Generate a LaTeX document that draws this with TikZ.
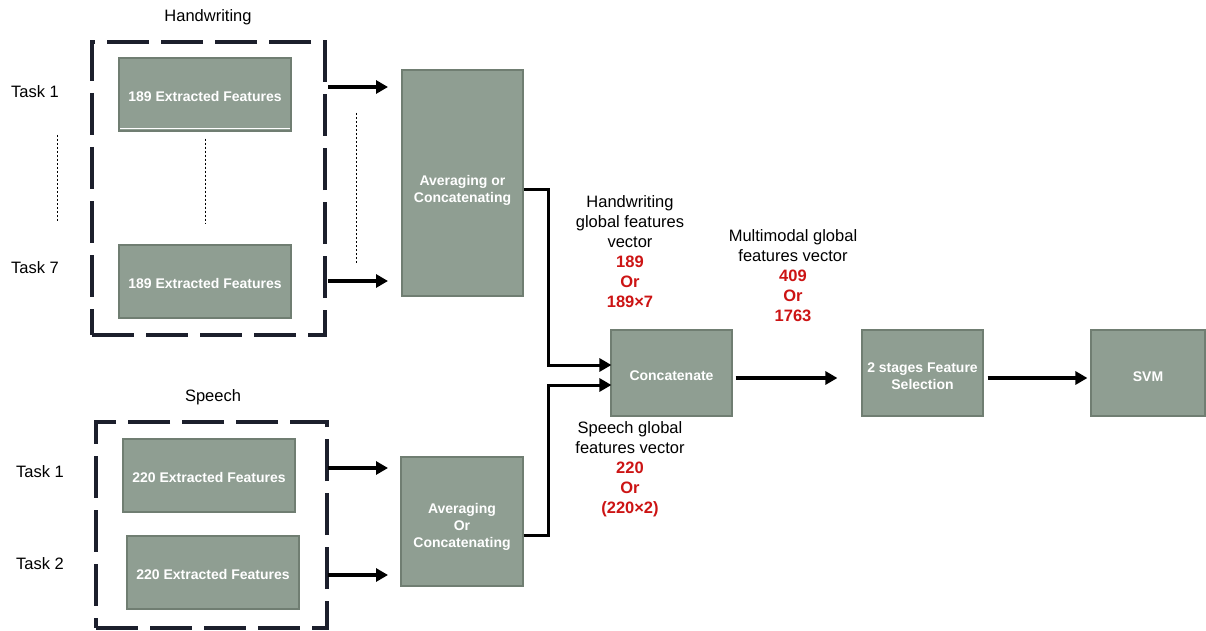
\documentclass[tikz,border=0pt]{standalone}
\usepackage{fontspec}
\setmainfont{Liberation Sans}
\usetikzlibrary{arrows.meta}
\definecolor{boxfill}{RGB}{143,158,146}
\definecolor{boxedge}{RGB}{112,126,114}
\definecolor{dashcol}{RGB}{28,31,44}
\definecolor{numred}{RGB}{204,20,20}
\newcommand{\lowerby}[1]{\rule{0pt}{#1}}
\tikzset{
  fbox/.style={draw=boxedge, line width=1.2pt, fill=boxfill, text=white,
    font=\fontsize{14}{17}\selectfont\bfseries, align=center, inner sep=2pt},
  dbox/.style={draw=dashcol, line width=4pt, dash pattern=on 42pt off 12pt},
  lbl/.style={font=\fontsize{16.5}{20}\selectfont, align=center, inner sep=0pt},
  arr/.style={line width=3.5pt, -{Triangle[length=12pt,width=13pt]}},
  conn/.style={line width=3pt, -{Triangle[length=12pt,width=13pt]}},
  dots/.style={line width=1pt, dash pattern=on 2pt off 2pt}
}
\begin{document}
\begin{tikzpicture}[x=1pt,y=-1pt]
\useasboundingbox (0,0) rectangle (1206,631);

% Handwriting group
\node[lbl] (hwl) at (208,17) {Handwriting};
\node[dbox, minimum width=233pt, minimum height=293pt] (hw) at (208.5,188.5) {};
\node[fbox, minimum width=172pt, minimum height=73pt] (h1) at (205,94.5) {\lowerby{14pt}189 Extracted Features};
\node[fbox, minimum width=172pt, minimum height=73pt] (h7) at (205,281.5) {\lowerby{14pt}189 Extracted Features};
\draw[white, line width=1.2pt] ([xshift=2pt,yshift=3pt]h1.south west) -- ([xshift=-2pt,yshift=3pt]h1.south east);
\draw[dots] ([yshift=-7pt]h1.south) -- ([yshift=20pt]h7.north);
\node[lbl] (t1) at (35,92) {Task 1};
\node[lbl] (t7) at (35,268) {Task 7};
\draw[dots] (57,135) coordinate (d1) -- (57,222) coordinate (d2);

% Averaging 1
\node[fbox, minimum width=121pt, minimum height=226pt] (avg1) at (462.5,183) {\lowerby{24pt}Averaging or\\Concatenating};
\coordinate (a1s) at (328,87);
\coordinate (a7s) at (328,281);
\draw[arr] (a1s) -- (a1s -| 388,0);
\draw[arr] (a7s) -- (a7s -| 388,0);
\draw[dots] (356,113) coordinate (d3) -- (356,263) coordinate (d4);

% Speech group
\node[lbl] (spl) at (213,397) {Speech};
\node[dbox, minimum width=231pt, minimum height=206pt] (sp) at (211.5,525) {};
\node[fbox, minimum width=172pt, minimum height=73pt] (s1) at (209,475.5) {\lowerby{14pt}220 Extracted Features};
\node[fbox, minimum width=172pt, minimum height=73pt] (s2) at (213,572.5) {\lowerby{14pt}220 Extracted Features};
\node[lbl] (st1) at (40,472) {Task 1};
\node[lbl] (st2) at (40,564) {Task 2};
\node[fbox, minimum width=122pt, minimum height=129pt] (avg2) at (462,521.5) {\lowerby{20pt}Averaging\\Or\\Concatenating};
\coordinate (s1s) at (328,468);
\coordinate (s2s) at (328,575);
\draw[arr] (s1s) -- (s1s -| 388,0);
\draw[arr] (s2s) -- (s2s -| 388,0);

% Concatenate and after
\node[fbox, minimum width=121pt, minimum height=86pt] (cc) at (671.5,373) {\lowerby{16pt}Concatenate};
\node[fbox, minimum width=121pt, minimum height=86pt] (fs) at (922.5,373) {\lowerby{16pt}2 stages Feature\\Selection};
\node[fbox, minimum width=114pt, minimum height=86pt] (svm) at (1148,373) {\lowerby{17pt}SVM};

\draw[conn] ([yshift=-6pt]avg1.east) -| (548,365) -- ([yshift=8pt,xshift=1pt]cc.west);
\draw[conn] ([yshift=-14pt]avg2.east) -| (548,385) -- ([yshift=-12pt,xshift=1pt]cc.west);
\draw[arr] ([xshift=3pt,yshift=-5pt]cc.east) -- ([xshift=-24pt,yshift=-5pt]fs.west);
\draw[arr] ([xshift=4pt,yshift=-5pt]fs.east) -- ([xshift=-3pt,yshift=-5pt]svm.west);

% Labels
\node[lbl, anchor=north] (hgl) at (630,195) {Handwriting\\global features\\vector\\{\color{numred}\bfseries 189}\\{\color{numred}\bfseries Or}\\{\color{numred}\bfseries 189×7}};
\node[lbl, anchor=north] (mml) at (793,229) {Multimodal global\\features vector\\{\color{numred}\bfseries 409}\\{\color{numred}\bfseries Or}\\{\color{numred}\bfseries 1763}};
\node[lbl, anchor=north] (sgl) at (630,421) {Speech global\\features vector\\{\color{numred}\bfseries 220}\\{\color{numred}\bfseries Or}\\{\color{numred}\bfseries (220×2)}};
\end{tikzpicture}
\end{document}
